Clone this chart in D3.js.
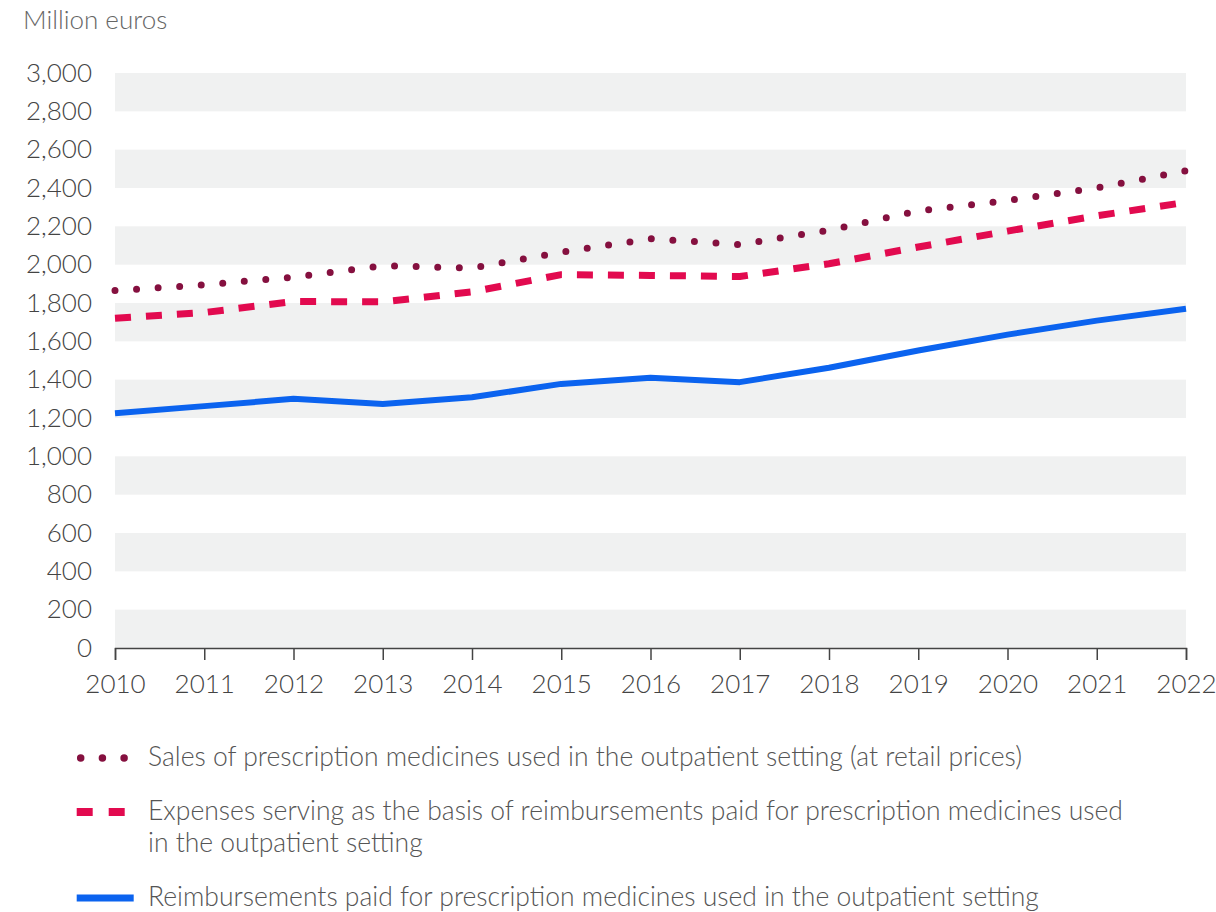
<!DOCTYPE html>
<meta charset="utf-8">
<style>
  body { margin: 0; background: #fff; }
  text { font-family: Lato, "Open Sans", sans-serif; font-weight: 300; }
</style>
<body>
<script src="https://cdn.jsdelivr.net/npm/d3@7"></script>
<script>
var years = [2010, 2011, 2012, 2013, 2014, 2015, 2016, 2017, 2018, 2019, 2020, 2021, 2022];
var sales = [1865, 1895, 1935, 1995, 1982, 2065, 2135, 2105, 2180, 2280, 2335, 2400, 2490];
var expenses = [1720, 1750, 1808, 1806, 1858, 1948, 1944, 1938, 2005, 2092, 2175, 2255, 2325];
var reimb = [1225, 1262, 1300, 1273, 1308, 1378, 1410, 1387, 1462, 1552, 1635, 1708, 1770];
var yTicks = d3.range(0, 3001, 200);
var legendLabels = [
  ["Sales of prescription medicines used in the outpatient setting (at retail prices)"],
  ["Expenses serving as the basis of reimbursements paid for prescription medicines used", "in the outpatient setting"],
  ["Reimbursements paid for prescription medicines used in the outpatient setting"]
];

var width = 1216, height = 912;
var x0 = 115, x1 = 1186, yTop = 73, yBot = 648;

var svg = d3.select("body").append("svg")
  .attr("width", width)
  .attr("height", height);

var x = d3.scaleLinear().domain([2010, 2022]).range([x0, x1]);
var y = d3.scaleLinear().domain([0, 3000]).range([yBot, yTop]);

// grey bands, every other 200 step
svg.append("g").selectAll("rect")
  .data(yTicks.filter(function(d, i) { return i % 2 == 0 && d < 3000; }))
  .enter().append("rect")
  .attr("x", x0)
  .attr("width", x1 - x0)
  .attr("y", function(d) { return y(d + 200); })
  .attr("height", function(d) { return y(d) - y(d + 200); })
  .style("fill", "#f0f1f1");

svg.append("text")
  .attr("x", 23).attr("y", 29)
  .style("font-size", "26px")
  .style("fill", "#666")
  .text("Million euros");

// y axis labels
var yAxis = svg.append("g")
  .attr("transform", "translate(" + x0 + ",0)")
  .call(d3.axisLeft(y).tickValues(yTicks).tickSize(0).tickPadding(23).tickFormat(d3.format(",")));
yAxis.select(".domain").remove();
yAxis.selectAll("text")
  .style("font-size", "26px")
  .style("font-family", "Lato, sans-serif")
  .style("fill", "#444");

// x axis
var xAxis = svg.append("g")
  .attr("transform", "translate(0," + yBot + ")")
  .call(d3.axisBottom(x).tickValues(years).tickSize(12).tickPadding(15).tickFormat(d3.format("d")));
xAxis.select(".domain").attr("stroke", "#444").attr("stroke-width", 1.5);
xAxis.selectAll(".tick line").attr("stroke", "#444").attr("stroke-width", 1.5);
xAxis.selectAll("text")
  .style("font-size", "26px")
  .style("font-family", "Lato, sans-serif")
  .style("fill", "#444");

var line = d3.line()
  .x(function(d, i) { return x(years[i]); })
  .y(function(d) { return y(d); });

var series = [
  { values: reimb, color: "#0b63ef", width: 6, dash: null, cap: "butt" },
  { values: expenses, color: "#e20a4f", width: 7, dash: "16,15", cap: "butt" },
  { values: sales, color: "#85103f", width: 7, dash: "0,21.6", cap: "round" }
];

series.forEach(function(s) {
  svg.append("path")
    .datum(s.values)
    .attr("d", line)
    .style("fill", "none")
    .style("stroke", s.color)
    .style("stroke-width", s.width)
    .style("stroke-dasharray", s.dash)
    .style("stroke-linecap", s.cap)
    .style("stroke-linejoin", "round");
});

// legend
var legendY = [758, 812, 898];
var legendOrder = [2, 1, 0];
legendLabels.forEach(function(lines, i) {
  var s = series[legendOrder[i]];
  var ly = legendY[i];
  if (i == 0) {
    svg.append("path")
      .attr("d", "M80.7," + ly + "H125")
      .style("stroke", s.color).style("stroke-width", 7.5)
      .style("stroke-dasharray", "0,21.7").style("stroke-linecap", "round");
  } else if (i == 1) {
    svg.append("path")
      .attr("d", "M76.7," + ly + "H124.7")
      .style("stroke", s.color).style("stroke-width", 8)
      .style("stroke-dasharray", "16,16");
  } else {
    svg.append("path")
      .attr("d", "M76.7," + ly + "H133.7")
      .style("stroke", s.color).style("stroke-width", 7);
  }
  var t = svg.append("text")
    .attr("x", 148).attr("y", ly + 8)
    .style("font-size", "26.5px")
    .style("fill", "#555");
  lines.forEach(function(l, j) {
    t.append("tspan").attr("x", 148).attr("dy", j == 0 ? 0 : 32).text(l);
  });
});
</script>
</body>
